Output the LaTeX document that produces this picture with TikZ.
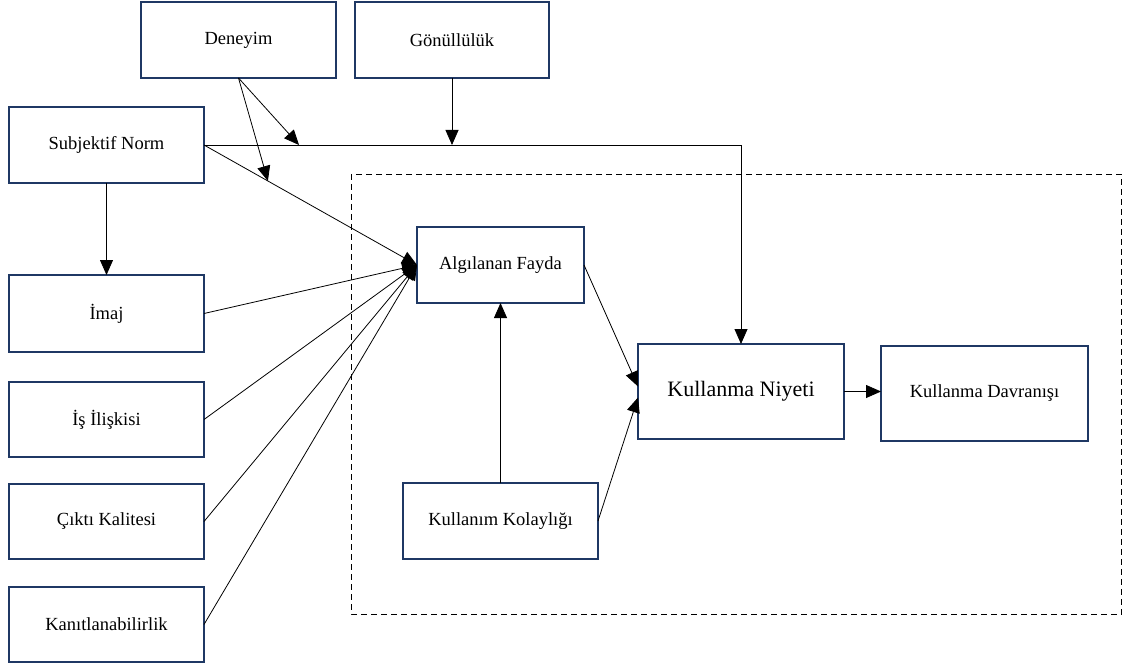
\documentclass[tikz,border=0pt]{standalone}
\usepackage{fontspec}
\setmainfont{Liberation Serif}
\usetikzlibrary{arrows.meta,calc}
\definecolor{boxnavy}{RGB}{31,56,100}
\begin{document}
\begin{tikzpicture}[x=1pt,y=-1pt,
  box/.style={draw=boxnavy,line width=1.7pt,fill=white,inner sep=0pt,outer sep=0pt,
    font=\fontsize{18.5}{22}\selectfont},
  conn/.style={draw=black,line width=0.8pt},
  arr/.style={conn,-{Triangle[length=15pt,width=13pt]}}]
\useasboundingbox (0,0) rectangle (1123,668);
% dashed frame
\draw[line width=0.9pt,dash pattern=on 6pt off 4pt] (351,174) rectangle (1121.5,614);
% boxes
\node[box,minimum width=195,minimum height=76] (den) at (238.5,40) {Deneyim};
\node[box,minimum width=194,minimum height=76] (gon) at (452,40) {Gönüllülük};
\node[box,minimum width=195,minimum height=76] (sn) at (106.5,145) {Subjektif Norm};
\node[box,minimum width=195,minimum height=77] (im) at (106.5,313.5) {İmaj};
\node[box,minimum width=195,minimum height=75] (is) at (106.5,419.5) {İş İlişkisi};
\node[box,minimum width=195,minimum height=75] (ck) at (106.5,521.5) {Çıktı Kalitesi};
\node[box,minimum width=195,minimum height=75] (kt) at (106.5,624.5) {Kanıtlanabilirlik};
\node[box,minimum width=167,minimum height=76] (af) at (500.5,265) {Algılanan Fayda};
\node[box,minimum width=206,minimum height=95,font=\fontsize{22}{26}\selectfont] (kn) at (741,391.5) {Kullanma Niyeti};
\node[box,minimum width=207,minimum height=95] (kd) at (984.5,393.5) {Kullanma Davranışı};
\node[box,minimum width=195,minimum height=76] (kk) at (500.5,521) {Kullanım Kolaylığı};
% helper coordinates
\path (sn.east) -- (kn.north |- sn.east) coordinate[pos=0.177] (m1);
\path (sn.east) -- (af.west) coordinate[pos=0.30] (m2);
% connectors
\draw[arr] (sn.east) -| (kn.north);
\draw[arr] (sn.east) -- (af.west);
\draw[arr] (den.south) -- (m1);
\draw[arr] (den.south) -- (m2);
\draw[arr] (gon.south) -- (gon.south |- sn.east);
\draw[arr] (sn.south) -- (im.north);
\draw[arr] (im.east) -- (af.west);
\draw[arr] (is.east) -- (af.west);
\draw[arr] (ck.east) -- (af.west);
\draw[arr] (kt.east) -- (af.west);
\draw[arr] (kk.north) -- (af.south);
\draw[arr] (af.east) -- ($(kn.west)+(0,-5)$);
\draw[arr] (kk.east) -- ($(kn.west)+(0,6)$);
\draw[arr] (kn.east) -- (kd.west |- kn.east);
\end{tikzpicture}
\end{document}
